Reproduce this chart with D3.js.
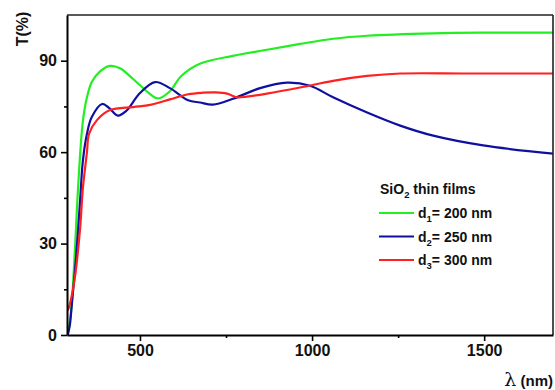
<!DOCTYPE html>
<html>
<head>
<meta charset="utf-8">
<script src="https://cdn.jsdelivr.net/npm/d3@7"></script>
<style>
  body { margin: 0; background: #fff; }
  text { font-family: "Liberation Sans", Arial, sans-serif; font-weight: bold; }
</style>
</head>
<body>
<script>
'use strict';

// wavelength (nm) / transmittance (%)
let d1Lambda = [290, 300, 311, 320, 334, 346, 360, 384, 413, 442, 480, 530, 552, 587, 620, 674, 770, 869, 965, 1061, 1160, 1352, 1500, 1700];
let d1T      = [0, 8, 28, 48, 70, 78, 83, 86.5, 88.3, 87.5, 84, 79, 77.6, 80, 85, 89, 91.6, 93.6, 95.5, 97.2, 98.2, 99, 99.2, 99.2];

let d2Lambda = [290, 296, 302, 314, 326, 334, 346, 360, 390, 410, 436, 460, 500, 544, 587, 640, 674, 712, 770, 849, 927, 994, 1061, 1160, 1256, 1352, 1497, 1700];
let d2T      = [0, 3, 10, 25, 44, 57, 66, 71.5, 75.8, 74.5, 72, 73.5, 79.4, 83, 81, 77, 76.3, 75.6, 77.5, 81, 82.8, 81.8, 78, 73, 68.7, 65.4, 62.2, 59.5];

let d3Lambda = [290, 296, 311, 326, 334, 346, 352, 375, 413, 480, 530, 587, 640, 683, 720, 753, 782, 810, 869, 965, 1061, 1160, 1256, 1451, 1700];
let d3T      = [8, 10, 19, 35, 48, 60, 66, 70.5, 73.8, 74.8, 75.5, 77.3, 79, 79.5, 79.6, 79.2, 78, 78.2, 79.2, 81.2, 83.4, 85, 85.8, 85.8, 85.8];

let seriesNames = ["d1", "d2", "d3"];
let seriesSubs = ["1", "2", "3"];
let seriesLabels = ["= 200 nm", "= 250 nm", "= 300 nm"];
let seriesColors = ["#22ee22", "#1010a0", "#ff2020"];

let xMajorTicks = [500, 1000, 1500];
let xMinorTicks = [750, 1250];
let yMajorTicks = [0, 30, 60, 90];
let yMinorTicks = [15, 45, 75];

let svg = d3.select('body').append('svg')
  .attr('width', 555)
  .attr('height', 390);

let xScale = d3.scaleLinear().domain([288, 1700]).range([67, 553]);
let yScale = d3.scaleLinear().domain([0, 105]).range([335, 15]);

// build point lists from the arrays
let series = [
  d3.zip(d1Lambda, d1T),
  d3.zip(d2Lambda, d2T),
  d3.zip(d3Lambda, d3T)
];

let line = d3.line()
  .x((d) => xScale(d[0]))
  .y((d) => yScale(d[1]))
  .curve(d3.curveCatmullRom.alpha(0.5));

svg.append('defs').append('clipPath').attr('id', 'clip')
  .append('rect')
  .attr('x', 67).attr('y', 15).attr('width', 486).attr('height', 320);

let plot = svg.append('g').attr('clip-path', 'url(#clip)');
series.forEach((pts, i) => {
  plot.append('path')
    .datum(pts)
    .attr('d', line)
    .attr('fill', 'none')
    .attr('stroke', seriesColors[i])
    .attr('stroke-width', 2.2);
});

// frame: top and right
svg.append('line').attr('x1', 67).attr('x2', 553).attr('y1', 15).attr('y2', 15)
  .attr('stroke', '#222').attr('stroke-width', 1.6);
svg.append('line').attr('x1', 553).attr('x2', 553).attr('y1', 15).attr('y2', 335)
  .attr('stroke', '#222').attr('stroke-width', 1.6);

// x axis
svg.append('g').attr('transform', 'translate(0,335)')
  .call(d3.axisBottom(xScale).tickValues(xMajorTicks).tickFormat(d3.format('d'))
    .tickSize(6).tickPadding(4).tickSizeOuter(0));
svg.append('g').attr('transform', 'translate(0,335)')
  .call(d3.axisBottom(xScale).tickValues(xMinorTicks).tickSize(3).tickFormat('').tickSizeOuter(0))
  .select('.domain').remove();

// y axis
svg.append('g').attr('transform', 'translate(67,0)')
  .call(d3.axisLeft(yScale).tickValues(yMajorTicks).tickFormat(d3.format('d'))
    .tickSize(6).tickPadding(4).tickSizeOuter(0));
svg.append('g').attr('transform', 'translate(67,0)')
  .call(d3.axisLeft(yScale).tickValues(yMinorTicks).tickSize(3).tickFormat('').tickSizeOuter(0))
  .select('.domain').remove();

svg.selectAll('.domain').attr('stroke', '#000').attr('stroke-width', 2);
svg.selectAll('.tick line').attr('stroke', '#000').attr('stroke-width', 1.6);
svg.selectAll('.tick text')
  .attr('fill', '#111')
  .style('font-size', '16px')
  .style('font-family', '"Liberation Sans", Arial, sans-serif')
  .style('font-weight', 'bold');

// axis titles
svg.append('text')
  .attr('transform', 'translate(28,29)rotate(-90)')
  .attr('text-anchor', 'middle')
  .attr('fill', '#111')
  .style('font-size', '16px')
  .text('T(%)');

let xt = svg.append('text')
  .attr('x', 553)
  .attr('y', 386)
  .attr('text-anchor', 'end')
  .attr('fill', '#111');
xt.append('tspan').style('font-size', '19px').style('font-weight', 'normal')
  .style('font-family', '"DejaVu Serif", serif').text('λ');
xt.append('tspan').style('font-size', '15px').text(' (nm)');

// legend
let legend = svg.append('g');
let title = legend.append('text').attr('x', 380).attr('y', 194)
  .attr('fill', '#111').style('font-size', '14px');
title.append('tspan').text('SiO');
title.append('tspan').attr('dy', 4).style('font-size', '9.5px').text('2');
title.append('tspan').attr('dy', -4).text(' thin films');

seriesNames.forEach((name, i) => {
  let y = 213 + i * 23.5;
  legend.append('line')
    .attr('x1', 379).attr('x2', 414).attr('y1', y).attr('y2', y)
    .attr('stroke', seriesColors[i]).attr('stroke-width', 2.2);
  let t = legend.append('text').attr('x', 418).attr('y', y + 5)
    .attr('fill', '#111').style('font-size', '14px');
  t.append('tspan').text('d');
  t.append('tspan').attr('dy', 4).style('font-size', '9.5px').text(seriesSubs[i]);
  t.append('tspan').attr('dy', -4).text(seriesLabels[i]);
});
</script>
</body>
</html>
